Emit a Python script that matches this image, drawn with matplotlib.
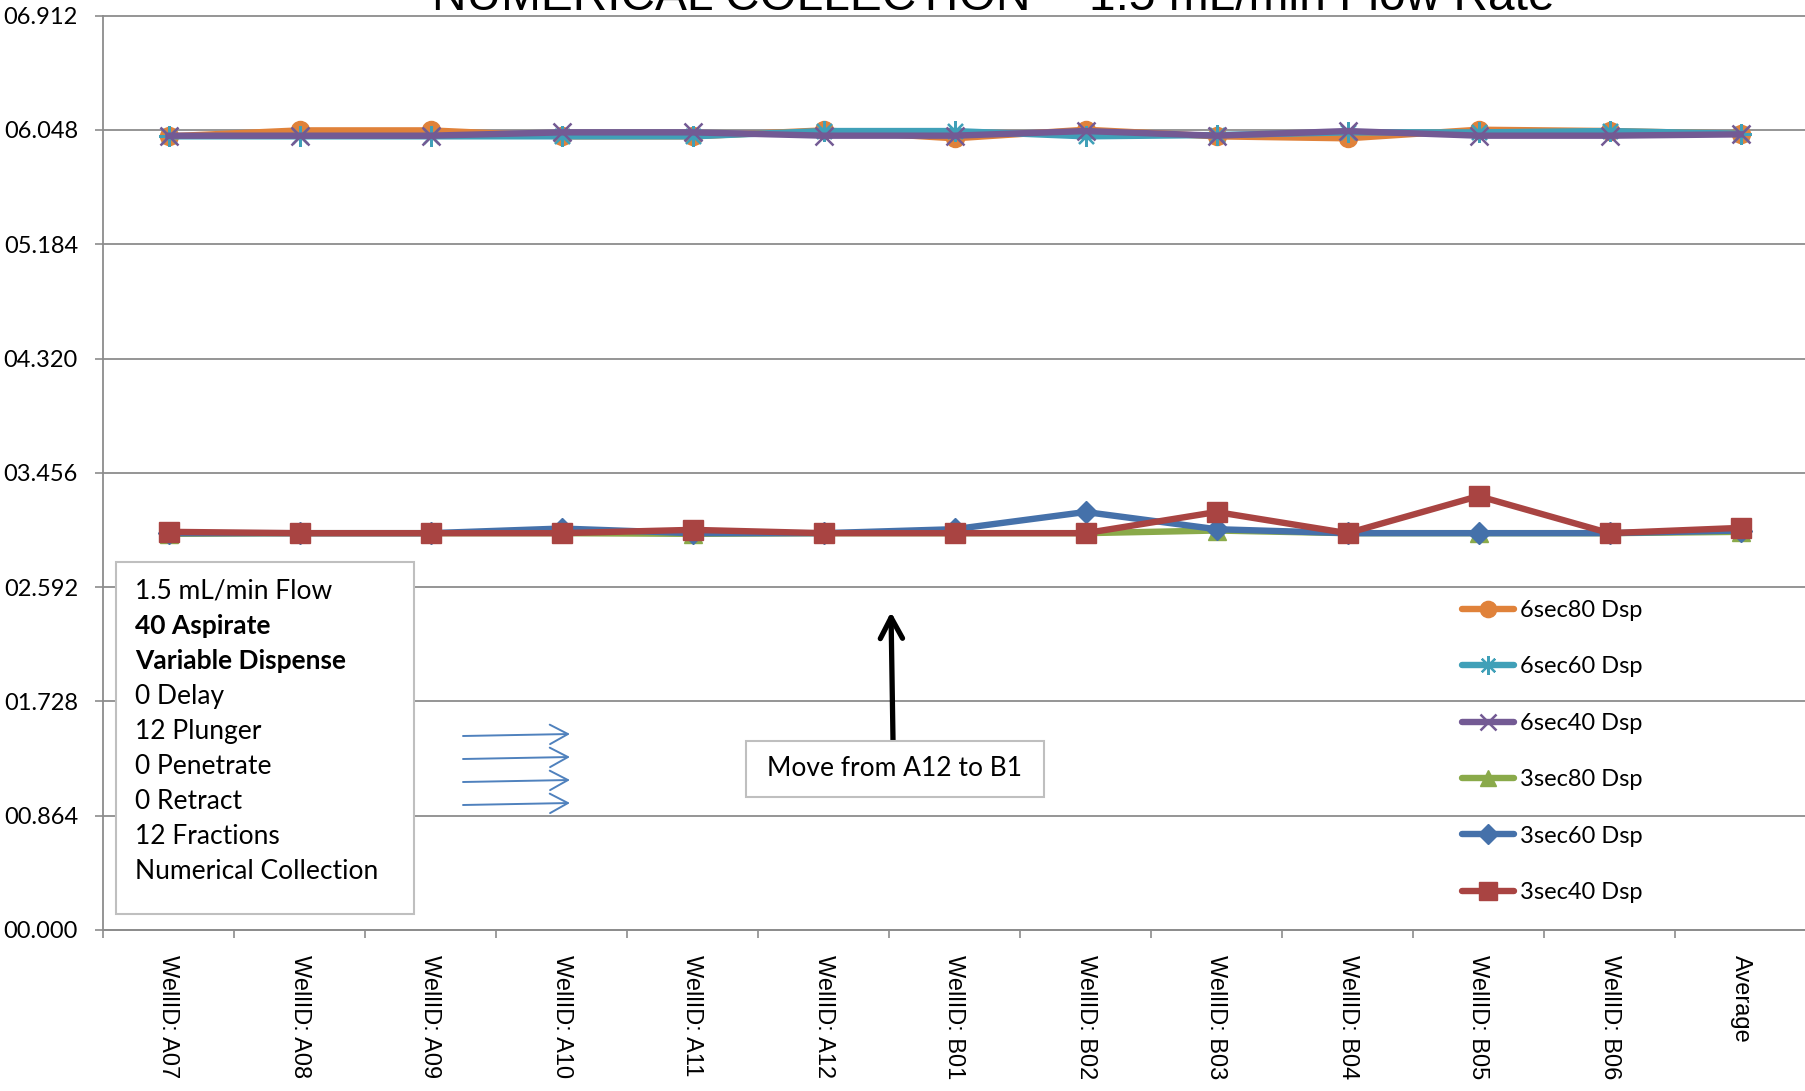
import matplotlib
matplotlib.use("Agg")
import matplotlib.pyplot as plt
import numpy as np
from matplotlib.patches import Rectangle
from matplotlib.lines import Line2D

# ---------- data ----------
wells = ["WellID: A07", "WellID: A08", "WellID: A09", "WellID: A10", "WellID: A11",
         "WellID: A12", "WellID: B01", "WellID: B02", "WellID: B03", "WellID: B04",
         "WellID: B05", "WellID: B06", "Average"]

sec6_80 = [6.000, 6.045, 6.045, 6.000, 6.000, 6.045, 5.985, 6.050, 6.000, 5.985, 6.050, 6.040, 6.020]
sec6_60 = [6.000, 6.000, 6.000, 6.000, 6.000, 6.040, 6.040, 6.000, 6.010, 6.030, 6.030, 6.040, 6.020]
sec6_40 = [6.005, 6.005, 6.005, 6.030, 6.030, 6.005, 6.005, 6.040, 6.005, 6.040, 6.005, 6.005, 6.015]
sec3_80 = [2.995, 3.000, 3.000, 3.000, 2.995, 3.000, 3.000, 3.000, 3.020, 3.000, 3.000, 3.000, 3.010]
sec3_60 = [3.000, 3.000, 3.000, 3.035, 3.000, 3.000, 3.030, 3.160, 3.030, 3.000, 3.000, 3.000, 3.020]
sec3_40 = [3.010, 3.000, 3.000, 3.000, 3.025, 3.000, 3.000, 3.000, 3.160, 3.000, 3.280, 3.000, 3.040]

series_labels = ["6sec80 Dsp", "6sec60 Dsp", "6sec40 Dsp", "3sec80 Dsp", "3sec60 Dsp", "3sec40 Dsp"]
y_ticks = [i * 0.864 for i in range(9)]

notes = ["1.5 mL/min Flow", "40 Aspirate", "Variable Dispense", "0 Delay", "12 Plunger",
         "0 Penetrate", "0 Retract", "12 Fractions", "Numerical Collection"]
bold_notes = {"40 Aspirate", "Variable Dispense"}

# ---------- styling ----------
W, H = 1806, 1091
GRID = "#8C8C8C"
TEXT_FONT = ["Lato", "DejaVu Sans"]
ARIAL = ["Liberation Sans", "DejaVu Sans"]

styles = [
    dict(color="#E0823A", marker="o", ms=13),
    dict(color="#40A0B8", marker=(8, 2, 0), ms=15, mew=1.6),
    dict(color="#735A94", marker="x", ms=13, mew=1.8),
    dict(color="#8AAA4A", marker="^", ms=13),
    dict(color="#4571AA", marker="D", ms=11),
    dict(color="#A94442", marker="s", ms=14),
]


def fpos(x, y):
    """pixel position (from top-left) -> figure fraction"""
    return x / W, 1 - y / H


fig = plt.figure(figsize=(W / 100, H / 100), dpi=100)
ax = fig.add_axes([103 / W, 1 - 930 / H, 1 - 103 / W, (930 - 15.7) / H])

x = np.arange(len(wells))
all_series = [sec6_80, sec6_60, sec6_40, sec3_80, sec3_60, sec3_40]
handles = []
for vals, lab, st in zip(all_series, series_labels, styles):
    st = dict(st)
    mew = st.pop("mew", 1.0)
    line, = ax.plot(x, vals, lw=4.6, color=st["color"], marker=st["marker"],
                    markersize=st["ms"], markeredgewidth=mew,
                    markeredgecolor=st["color"], markerfacecolor=st["color"],
                    solid_joinstyle="round", label=lab, zorder=3)
    handles.append(Line2D([], [], lw=4.6, color=st["color"], marker=st["marker"],
                          markersize=st["ms"] * 0.9, markeredgewidth=mew,
                          markeredgecolor=st["color"], markerfacecolor=st["color"],
                          solid_capstyle="round"))

ax.set_xlim(-0.5, len(wells) - 0.5)
ax.set_ylim(0, 6.912)

ax.set_yticks(y_ticks)
ax.set_yticklabels([f"{v:06.3f}" for v in y_ticks], fontsize=17, family=TEXT_FONT)
ax.tick_params(axis="y", length=6, width=1.2, color=GRID, pad=12)
ax.yaxis.grid(True, color=GRID, lw=1.3)
for gl in ax.get_ygridlines():
    gl.set_clip_on(False)
ax.set_axisbelow(True)

ax.set_xticks(x)
ax.set_xticklabels(wells, rotation=-90, ha="center", va="top", fontsize=17, family=ARIAL)
ax.set_xticks(np.arange(-0.5, len(wells)), minor=True)
ax.tick_params(axis="x", which="major", length=0, pad=18)
ax.tick_params(axis="x", which="minor", length=6, width=1.2, color=GRID)

for side in ("top", "right"):
    ax.spines[side].set_visible(False)
for side in ("left", "bottom"):
    ax.spines[side].set_color(GRID)
    ax.spines[side].set_linewidth(1.3)

# title (sits partly above the canvas)
tx, ty = fpos(993, 10)
fig.text(tx, ty, "NUMERICAL COLLECTION -- 1.5 mL/min Flow Rate", ha="center",
         va="baseline", fontsize=34.5, family=ARIAL)

# legend
lx, ly = fpos(1462, 600)
ax.legend(handles, series_labels, loc="upper left", bbox_to_anchor=(lx, ly),
          bbox_transform=fig.transFigure, frameon=False,
          prop={"family": TEXT_FONT, "size": 17}, handlelength=2.2,
          handletextpad=0.25, labelspacing=1.5, borderpad=0, borderaxespad=0)

# settings note box
bx0, by0 = fpos(116, 914)
bx1, by1 = fpos(414, 562)
fig.patches.append(Rectangle((bx0, by0), bx1 - bx0, by1 - by0, transform=fig.transFigure,
                             facecolor="white", edgecolor="#BFBFBF", lw=1.5, zorder=5))
for i, line in enumerate(notes):
    nx, ny = fpos(135, 591 + 35.1 * i)
    fig.text(nx, ny, line, ha="left", va="center", fontsize=19, family=TEXT_FONT,
             fontweight="bold" if line in bold_notes else "normal", zorder=6)

# move note box
mx0, my0 = fpos(746, 797)
mx1, my1 = fpos(1044, 741)
fig.patches.append(Rectangle((mx0, my0), mx1 - mx0, my1 - my0, transform=fig.transFigure,
                             facecolor="white", edgecolor="#BFBFBF", lw=1.5, zorder=5))
cx, cy = fpos(895, 768)
fig.text(cx, cy, "Move from A12 to B1", ha="center", va="center", fontsize=19,
         family=TEXT_FONT, zorder=6)

# black arrow pointing up from the move note
ax.annotate("", xy=fpos(891, 612), xycoords="figure fraction",
            xytext=fpos(893, 740), textcoords="figure fraction",
            arrowprops=dict(arrowstyle="->,head_length=1.5,head_width=0.8",
                            color="black", lw=3.8, shrinkA=0, shrinkB=0))

# blue fill-direction arrows
for ya in (736, 759, 782, 805):
    ax.annotate("", xy=fpos(570, ya - 2), xycoords="figure fraction",
                xytext=fpos(463, ya), textcoords="figure fraction",
                arrowprops=dict(arrowstyle="->,head_length=1.3,head_width=0.7",
                                color="#4F81BD", lw=1.4, shrinkA=0, shrinkB=0))

fig.savefig("out.png", dpi=100)
